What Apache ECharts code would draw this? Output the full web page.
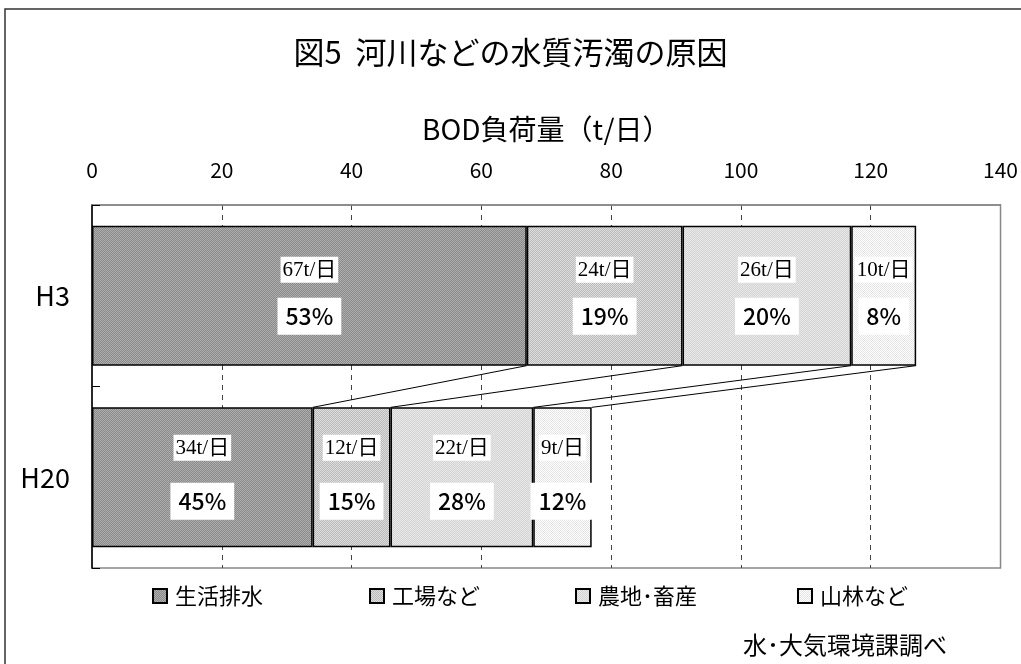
<!DOCTYPE html>
<html>
<head>
<meta charset="utf-8">
<script src="https://cdn.jsdelivr.net/npm/echarts@6/dist/echarts.min.js"></script>
<style>
  html, body { margin: 0; padding: 0; background: #fff; }
  #chart { width: 1021px; height: 664px; }
</style>
</head>
<body>
<div id="chart"></div>
<script>
// データ
const categories = ["H3", "H20"];
const causes = ["生活排水", "工場など", "農地･畜産", "山林など"];
const loadH3 = [67, 24, 26, 10];   // t/日
const loadH20 = [34, 12, 22, 9];
const shareH3 = [53, 19, 20, 8];   // %
const shareH20 = [45, 15, 28, 12];
const xTicks = { min: 0, max: 140, interval: 20 };

const BAR_RATIO = 0.77;
const GOTHIC = "'Noto Sans CJK JP', sans-serif";
const NARROW = "'Liberation Sans Narrow', 'Noto Sans CJK JP', sans-serif";
const SERIF = "'Liberation Serif', 'Noto Sans CJK JP', serif";
const legendLeft = [147, 364, 570, 792];

// 網点パターン
function makePattern(c1, c2) {
    const cv = document.createElement("canvas");
    cv.width = 2;
    cv.height = 2;
    const ctx = cv.getContext("2d");
    ctx.fillStyle = c1;
    ctx.fillRect(0, 0, 2, 2);
    ctx.fillStyle = c2;
    ctx.fillRect(0, 0, 1, 1);
    ctx.fillRect(1, 1, 1, 1);
    return { image: cv, repeat: "repeat" };
}
const patterns = [
    makePattern("#888888", "#b0b0b0"),
    makePattern("#b8b8b8", "#e0e0e0"),
    makePattern("#d4d4d4", "#e8e8e8"),
    makePattern("#ffffff", "#e4e4e4")
];

// 接続線用の累積値
function cumulative(arr) {
    let s = 0;
    return arr.map(v => (s += v));
}
const cumH3 = cumulative(loadH3);
const cumH20 = cumulative(loadH20);
const connectors = cumH3.map((v, i) => [v, 0, cumH20[i]]);

const chart = echarts.init(document.getElementById("chart"));

const barSeries = causes.map((name, i) => ({
    name: name,
    type: "bar",
    stack: "total",
    barWidth: BAR_RATIO * 100 + "%",
    data: [loadH3[i], loadH20[i]],
    itemStyle: {
        color: patterns[i],
        borderColor: "#000",
        borderWidth: 1.5
    },
    label: {
        show: true,
        position: "inside",
        formatter: function (p) {
            const share = p.dataIndex === 0 ? shareH3[i] : shareH20[i];
            const gap = p.dataIndex === 0 ? "g0" : "g1";
            return "{v|" + p.value + "t/日}\n{" + gap + "| }\n{p|" + share + "%}";
        },
        rich: {
            v: {
                fontFamily: SERIF,
                fontSize: 21,
                color: "#000",
                backgroundColor: "#fff",
                padding: [3, 2, 2, 2]
            },
            g0: { fontSize: 1, height: 15 },
            g1: { fontSize: 1, height: 22 },
            p: {
                fontFamily: GOTHIC,
                fontSize: 23,
                fontWeight: 500,
                color: "#000",
                backgroundColor: "#fff",
                padding: [7, 8, 7, 8]
            }
        }
    },
    emphasis: { disabled: true }
}));

chart.setOption({
    animation: false,
    title: {
        text: "図5  河川などの水質汚濁の原因",
        left: "center",
        top: 32,
        textStyle: { fontFamily: GOTHIC, fontSize: 31, fontWeight: "normal", color: "#000" }
    },
    legend: causes.map((name, i) => ({
        data: [name],
        left: legendLeft[i],
        top: 580,
        icon: "rect",
        itemWidth: 14,
        itemHeight: 14,
        selectedMode: false,
        textStyle: { fontFamily: GOTHIC, fontSize: 22, color: "#000", padding: [0, 0, 0, 3] }
    })),
    grid: {
        left: 92,
        right: 19,
        top: 205,
        bottom: 96,
        show: true,
        borderColor: "#888",
        borderWidth: 1.5
    },
    xAxis: {
        type: "value",
        position: "top",
        min: xTicks.min,
        max: xTicks.max,
        interval: xTicks.interval,
        name: "BOD負荷量（t/日）",
        nameLocation: "middle",
        nameGap: 62,
        nameTextStyle: { fontFamily: GOTHIC, fontSize: 28, color: "#000" },
        axisLine: { show: true, lineStyle: { color: "#888", width: 1.5 } },
        axisTick: { show: false },
        axisLabel: { fontFamily: NARROW, fontSize: 21, color: "#000", margin: 24 },
        splitLine: {
            show: true,
            showMinLine: false,
            showMaxLine: false,
            lineStyle: { color: "#444", type: [5, 5], width: 1 }
        }
    },
    yAxis: {
        type: "category",
        inverse: true,
        data: categories,
        axisLine: { show: true, lineStyle: { color: "#000", width: 1.5 } },
        axisTick: { show: true, inside: true, length: 8, lineStyle: { color: "#000" } },
        axisLabel: { fontFamily: GOTHIC, fontSize: 27, color: "#000", margin: 22 }
    },
    series: barSeries.concat([{
        type: "custom",
        name: "connector",
        data: connectors,
        encode: { x: [0, 2], y: 1 },
        silent: true,
        z: 3,
        renderItem: function (params, api) {
            const p1 = api.coord([api.value(0), 0]);
            const p2 = api.coord([api.value(2), 1]);
            const half = api.size([0, 1])[1] * BAR_RATIO / 2;
            return {
                type: "line",
                shape: { x1: p1[0], y1: p1[1] + half, x2: p2[0], y2: p2[1] - half },
                style: { stroke: "#000", lineWidth: 1 }
            };
        }
    }]),
    graphic: [
        {
            type: "rect",
            shape: { x: 5, y: 9, width: 1200, height: 1000 },
            style: { fill: "none", stroke: "#333", lineWidth: 1.5 },
            silent: true
        },
        {
            type: "text",
            left: 743,
            top: 633,
            style: { text: "水･大気環境課調べ", fontFamily: GOTHIC, fontSize: 24, fill: "#000" }
        }
    ]
});
</script>
</body>
</html>
